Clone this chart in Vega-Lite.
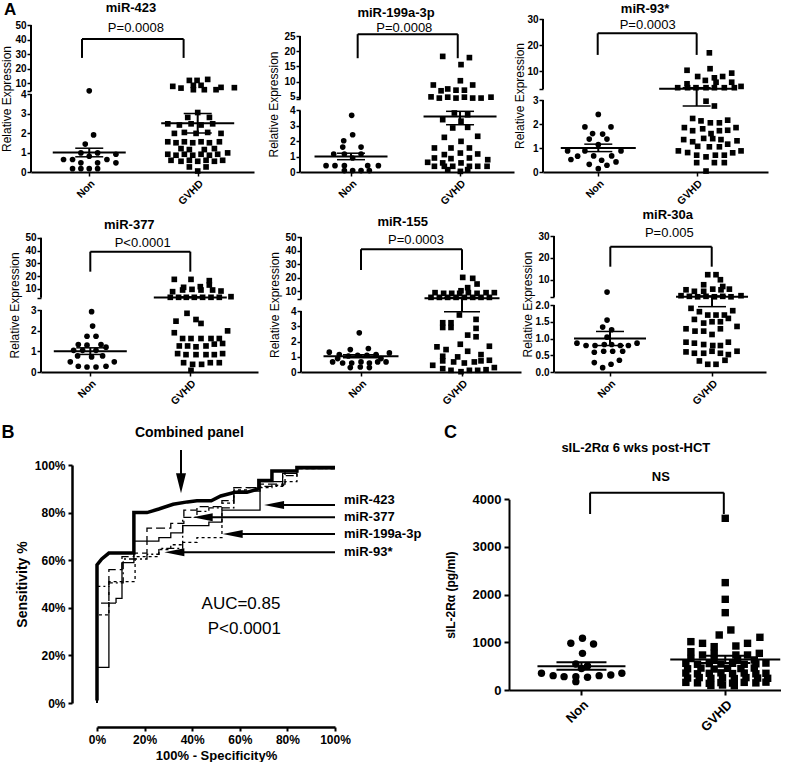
{
"$schema": "https://vega.github.io/schema/vega-lite/v6.json",
"background": "white",
"padding": {"left": 0, "top": 1, "right": 0, "bottom": 0},
"columns": 3,
"bounds": "flush",
"spacing": {"row": 64, "column": 0},
"config": {"font": "Liberation Sans", "view": {"stroke": null}, "axis": {"grid": false, "domainColor": "#000", "tickColor": "#000", "labelColor": "#000", "titleColor": "#000", "labelOverlap": false, "labelFlush": false}},
"concat": [
{
"width": 269, "height": 153,
"encoding": {
 "x": {"field": "x", "type": "quantitative", "scale": {"domain": [0.463, 2.519], "range": [0, 223], "nice": false, "zero": false},
  "axis": {"values": [1, 2], "labelExpr": "datum.value == 1 ? 'Non' : 'GVHD'", "labelAngle": -45, "labelFontSize": 10.5, "labelFontWeight": "bold", "tickSize": 4, "tickWidth": 1.5, "domainWidth": 2, "title": null, "labelPadding": 2}},
 "y": {"field": "y", "type": "quantitative", "scale": {"domain": [0, 4, 4.5, 50], "range": [153, 75, 72, 6], "nice": false, "zero": false},
  "axis": {"values": [0, 1, 2, 3, 4, 4.5, 10, 20, 30, 40, 50], "labelExpr": "datum.value == 4.5 ? '' : datum.label", "domain": false, "tickSize": 4, "tickWidth": 1.5, "labelFontSize": 10, "labelFontWeight": "bold", "labelPadding": 1, "title": "Relative Expression", "titleFontSize": 12, "titleFontWeight": "normal", "titlePadding": 1}}
},
"layer": [
 {"data": {"values": [
  {"g":"Non","x":1.0,"y":4.6},{"g":"Non","x":1.04,"y":1.9},{"g":"Non","x":0.963,"y":1.43},{"g":"Non","x":0.923,"y":0.98},{"g":"Non","x":1.077,"y":0.98},{"g":"Non","x":1.246,"y":0.91},{"g":"Non","x":1.0,"y":0.81},{"g":"Non","x":0.763,"y":0.64},{"g":"Non","x":0.846,"y":0.64},{"g":"Non","x":1.163,"y":0.64},{"g":"Non","x":0.923,"y":0.47},{"g":"Non","x":1.077,"y":0.47},{"g":"Non","x":1.246,"y":0.47},{"g":"Non","x":0.846,"y":0.17},{"g":"Non","x":0.923,"y":0.17},{"g":"Non","x":1.0,"y":0.17},{"g":"Non","x":1.077,"y":0.17},
  {"g":"GVHD","x":1.77,"y":7.7},{"g":"GVHD","x":1.846,"y":6.5},{"g":"GVHD","x":1.923,"y":11.8},{"g":"GVHD","x":1.994,"y":11.8},{"g":"GVHD","x":2.092,"y":12.5},{"g":"GVHD","x":1.96,"y":8.4},{"g":"GVHD","x":2.031,"y":8.4},{"g":"GVHD","x":1.96,"y":5.4},{"g":"GVHD","x":2.061,"y":5.4},{"g":"GVHD","x":2.169,"y":5.4},{"g":"GVHD","x":2.338,"y":6.8},{"g":"GVHD","x":2.215,"y":7.0},
  {"g":"GVHD","x":2.0,"y":3.05},{"g":"GVHD","x":1.908,"y":2.8},{"g":"GVHD","x":2.108,"y":2.8},{"g":"GVHD","x":1.724,"y":2.47},{"g":"GVHD","x":1.831,"y":2.41},{"g":"GVHD","x":1.939,"y":2.47},{"g":"GVHD","x":2.031,"y":2.41},{"g":"GVHD","x":2.138,"y":2.47},{"g":"GVHD","x":1.785,"y":1.98},{"g":"GVHD","x":1.877,"y":2.03},{"g":"GVHD","x":1.985,"y":1.98},{"g":"GVHD","x":2.092,"y":2.03},{"g":"GVHD","x":2.215,"y":1.98},{"g":"GVHD","x":1.724,"y":1.55},{"g":"GVHD","x":1.8,"y":1.5},{"g":"GVHD","x":1.877,"y":1.55},{"g":"GVHD","x":1.954,"y":1.5},{"g":"GVHD","x":2.031,"y":1.55},{"g":"GVHD","x":2.108,"y":1.5},{"g":"GVHD","x":2.2,"y":1.55},{"g":"GVHD","x":1.846,"y":1.2},{"g":"GVHD","x":1.923,"y":1.15},{"g":"GVHD","x":2.061,"y":1.15},{"g":"GVHD","x":2.154,"y":1.2},{"g":"GVHD","x":1.724,"y":0.91},{"g":"GVHD","x":1.8,"y":0.86},{"g":"GVHD","x":1.877,"y":0.91},{"g":"GVHD","x":1.954,"y":0.86},{"g":"GVHD","x":2.031,"y":0.91},{"g":"GVHD","x":2.108,"y":0.86},{"g":"GVHD","x":2.184,"y":0.91},{"g":"GVHD","x":2.276,"y":0.98},{"g":"GVHD","x":1.754,"y":0.6},{"g":"GVHD","x":1.846,"y":0.55},{"g":"GVHD","x":1.923,"y":0.6},{"g":"GVHD","x":2.0,"y":0.55},{"g":"GVHD","x":2.077,"y":0.6},{"g":"GVHD","x":2.154,"y":0.55},{"g":"GVHD","x":2.23,"y":0.6},{"g":"GVHD","x":1.923,"y":0.26},{"g":"GVHD","x":2.077,"y":0.26},{"g":"GVHD","x":2.0,"y":0.05}
 ]}, "mark": {"type": "point", "filled": true, "opacity": 1, "color": "#000", "size": 32},
  "encoding": {"shape": {"field": "g", "type": "nominal", "scale": {"domain": ["Non", "GVHD"], "range": ["circle", "square"]}, "legend": null}}},
 {"data": {"values": [
  {"x":0.463,"y":0,"x2":0.463,"y2":4},{"x":0.463,"y":4.5,"x2":0.463,"y2":50},
  {"x":0.933,"y":27.3,"x2":0.933,"y2":40.3},{"x":0.933,"y":40.3,"x2":1.87,"y2":40.3},{"x":1.87,"y":40.3,"x2":1.87,"y2":27.3},
  {"x":1,"y":0.78,"x2":1,"y2":1.22},{"x":2,"y":2.0,"x2":2,"y2":3.0}
 ]}, "mark": {"type": "rule", "strokeWidth": 2, "color": "#000"}, "encoding": {"x2": {"field": "x2"}, "y2": {"field": "y2"}}},
 {"data": {"values": [{"x":1,"y":1.0},{"x":2,"y":2.5}]}, "mark": {"type": "tick", "orient": "horizontal", "size": 73, "thickness": 2, "color": "#000", "opacity": 1}},
 {"data": {"values": [{"x":1,"y":0.78},{"x":1,"y":1.22},{"x":2,"y":2.0},{"x":2,"y":3.0}]}, "mark": {"type": "tick", "orient": "horizontal", "size": 28, "thickness": 1.5, "color": "#000", "opacity": 1}},
 {"data": {"values": [{"x":1.385,"y":61.5,"t":"miR-423"}]}, "mark": {"type": "text", "fontSize": 13, "fontWeight": "bold", "color": "#000"}, "encoding": {"text": {"field": "t"}}},
 {"data": {"values": [{"x":1.43,"y":47.9,"t":"P=0.0008"}]}, "mark": {"type": "text", "fontSize": 13, "color": "#000"}, "encoding": {"text": {"field": "t"}}},
 {"data": {"values": [{"x":0.27,"y":60.2,"t":"A"}]}, "mark": {"type": "text", "fontSize": 17, "fontWeight": "bold", "color": "#000"}, "encoding": {"text": {"field": "t"}}}
]
},
{
"width": 243, "height": 153,
"encoding": {
 "x": {"field": "x", "type": "quantitative", "scale": {"domain": [0.532, 2.495], "range": [0, 214], "nice": false, "zero": false},
  "axis": {"values": [1, 2], "labelExpr": "datum.value == 1 ? 'Non' : 'GVHD'", "labelAngle": -45, "labelFontSize": 10.5, "labelFontWeight": "bold", "tickSize": 4, "tickWidth": 1.5, "domainWidth": 2, "title": null, "labelPadding": 2}},
 "y": {"field": "y", "type": "quantitative", "scale": {"domain": [0, 4, 4.2, 25], "range": [153, 91.4, 80.3, 17], "nice": false, "zero": false},
  "axis": {"values": [0, 1, 2, 3, 4, 4.2, 5, 10, 15, 20, 25], "labelExpr": "datum.value == 4.2 ? '' : datum.label", "domain": false, "tickSize": 4, "tickWidth": 1.5, "labelFontSize": 10, "labelFontWeight": "bold", "labelPadding": 1, "title": "Relative Expression", "titleFontSize": 12, "titleFontWeight": "normal", "titlePadding": 3}}
},
"layer": [
 {"data": {"values": [
  {"g":"Non","x":1.006,"y":3.68},{"g":"Non","x":1.015,"y":2.42},{"g":"Non","x":0.933,"y":2.03},{"g":"Non","x":0.924,"y":1.62},{"g":"Non","x":1.092,"y":1.62},{"g":"Non","x":0.841,"y":1.17},{"g":"Non","x":0.939,"y":1.17},{"g":"Non","x":1.092,"y":1.17},{"g":"Non","x":1.015,"y":0.91},{"g":"Non","x":0.771,"y":0.41},{"g":"Non","x":0.853,"y":0.41},{"g":"Non","x":0.939,"y":0.41},{"g":"Non","x":1.153,"y":0.41},{"g":"Non","x":1.251,"y":0.41},{"g":"Non","x":0.939,"y":0.09},{"g":"Non","x":1.015,"y":0.09},{"g":"Non","x":1.092,"y":0.09},{"g":"Non","x":1.168,"y":0.09},
  {"g":"GVHD","x":1.841,"y":18.3},{"g":"GVHD","x":2.086,"y":17.9},{"g":"GVHD","x":2.009,"y":15.6},{"g":"GVHD","x":2.003,"y":10.3},{"g":"GVHD","x":1.755,"y":8.9},{"g":"GVHD","x":2.116,"y":8.9},{"g":"GVHD","x":1.887,"y":7.6},{"g":"GVHD","x":1.963,"y":7.2},{"g":"GVHD","x":2.04,"y":7.2},{"g":"GVHD","x":1.826,"y":7.0},{"g":"GVHD","x":1.734,"y":5.0},{"g":"GVHD","x":1.81,"y":4.6},{"g":"GVHD","x":1.887,"y":4.9},{"g":"GVHD","x":1.963,"y":4.6},{"g":"GVHD","x":2.04,"y":4.9},{"g":"GVHD","x":2.116,"y":4.6},{"g":"GVHD","x":2.193,"y":4.6},{"g":"GVHD","x":2.284,"y":4.9},
  {"g":"GVHD","x":1.948,"y":3.83},{"g":"GVHD","x":2.07,"y":3.72},{"g":"GVHD","x":1.841,"y":3.4},{"g":"GVHD","x":2.009,"y":3.3},{"g":"GVHD","x":1.933,"y":2.86},{"g":"GVHD","x":2.07,"y":2.9},{"g":"GVHD","x":1.856,"y":2.25},{"g":"GVHD","x":2.162,"y":2.32},{"g":"GVHD","x":2.009,"y":1.99},{"g":"GVHD","x":1.765,"y":1.56},{"g":"GVHD","x":1.917,"y":1.56},{"g":"GVHD","x":2.086,"y":1.56},{"g":"GVHD","x":1.856,"y":1.13},{"g":"GVHD","x":2.003,"y":1.23},{"g":"GVHD","x":2.162,"y":1.17},{"g":"GVHD","x":1.765,"y":0.91},{"g":"GVHD","x":1.917,"y":0.87},{"g":"GVHD","x":2.086,"y":0.91},{"g":"GVHD","x":1.703,"y":0.63},{"g":"GVHD","x":1.841,"y":0.59},{"g":"GVHD","x":2.009,"y":0.59},{"g":"GVHD","x":2.254,"y":0.8},{"g":"GVHD","x":1.765,"y":0.37},{"g":"GVHD","x":1.856,"y":0.37},{"g":"GVHD","x":1.933,"y":0.37},{"g":"GVHD","x":2.086,"y":0.37},{"g":"GVHD","x":2.162,"y":0.37},{"g":"GVHD","x":2.248,"y":0.37},{"g":"GVHD","x":1.887,"y":0.15},{"g":"GVHD","x":2.003,"y":0.04},{"g":"GVHD","x":2.07,"y":0.15}
 ]}, "mark": {"type": "point", "filled": true, "opacity": 1, "color": "#000", "size": 32},
  "encoding": {"shape": {"field": "g", "type": "nominal", "scale": {"domain": ["Non", "GVHD"], "range": ["circle", "square"]}, "legend": null}}},
 {"data": {"values": [
  {"x":0.532,"y":0,"x2":0.532,"y2":4},{"x":0.532,"y":4.2,"x2":0.532,"y2":25},
  {"x":1.061,"y":17.7,"x2":1.061,"y2":25.6},{"x":1.061,"y":25.6,"x2":1.979,"y2":25.6},{"x":1.979,"y":25.6,"x2":1.979,"y2":17.7},
  {"x":1,"y":0.8,"x2":1,"y2":1.22},{"x":2,"y":3.07,"x2":2,"y2":3.94}
 ]}, "mark": {"type": "rule", "strokeWidth": 2, "color": "#000"}, "encoding": {"x2": {"field": "x2"}, "y2": {"field": "y2"}}},
 {"data": {"values": [{"x":1,"y":1.0},{"x":2,"y":3.6}]}, "mark": {"type": "tick", "orient": "horizontal", "size": 73, "thickness": 2, "color": "#000", "opacity": 1}},
 {"data": {"values": [{"x":1,"y":0.8},{"x":1,"y":1.22},{"x":2,"y":3.07},{"x":2,"y":3.94}]}, "mark": {"type": "tick", "orient": "horizontal", "size": 28, "thickness": 1.5, "color": "#000", "opacity": 1}},
 {"data": {"values": [{"x":1.413,"y":32.5,"t":"miR-199a-3p"}]}, "mark": {"type": "text", "fontSize": 13, "fontWeight": "bold", "color": "#000"}, "encoding": {"text": {"field": "t"}}},
 {"data": {"values": [{"x":1.489,"y":27.5,"t":"P=0.0008"}]}, "mark": {"type": "text", "fontSize": 13, "color": "#000"}, "encoding": {"text": {"field": "t"}}}
]
},
{
"width": 225, "height": 153,
"encoding": {
 "x": {"field": "x", "type": "quantitative", "scale": {"domain": [0.438, 2.725], "range": [0, 225], "nice": false, "zero": false},
  "axis": {"values": [1, 2], "labelExpr": "datum.value == 1 ? 'Non' : 'GVHD'", "labelAngle": -45, "labelFontSize": 10.5, "labelFontWeight": "bold", "tickSize": 4, "tickWidth": 1.5, "domainWidth": 2, "title": null, "labelPadding": 2}},
 "y": {"field": "y", "type": "quantitative", "scale": {"domain": [0, 3, 3.1, 30], "range": [153, 81, 70, 0], "nice": false, "zero": false},
  "axis": {"values": [0, 1, 2, 3, 3.1, 10, 20, 30], "labelExpr": "datum.value == 3.1 ? '' : datum.label", "domain": false, "tickSize": 4, "tickWidth": 1.5, "labelFontSize": 10, "labelFontWeight": "bold", "labelPadding": 1, "title": "Relative Expression", "titleFontSize": 12, "titleFontWeight": "normal", "titlePadding": 0}}
},
"layer": [
 {"data": {"values": [
  {"g":"Non","x":1.0,"y":2.4},{"g":"Non","x":0.864,"y":1.88},{"g":"Non","x":1.129,"y":1.88},{"g":"Non","x":0.942,"y":1.6},{"g":"Non","x":1.044,"y":1.58},{"g":"Non","x":0.908,"y":1.37},{"g":"Non","x":1.088,"y":1.37},{"g":"Non","x":1.0,"y":1.14},{"g":"Non","x":0.688,"y":0.88},{"g":"Non","x":0.864,"y":0.88},{"g":"Non","x":1.231,"y":0.88},{"g":"Non","x":0.79,"y":0.66},{"g":"Non","x":0.953,"y":0.67},{"g":"Non","x":1.136,"y":0.67},{"g":"Non","x":0.722,"y":0.52},{"g":"Non","x":1.034,"y":0.49},{"g":"Non","x":1.18,"y":0.42},{"g":"Non","x":0.908,"y":0.32},{"g":"Non","x":1.088,"y":0.28},{"g":"Non","x":1.0,"y":0.14},
  {"g":"GVHD","x":2.129,"y":17},{"g":"GVHD","x":1.902,"y":10.3},{"g":"GVHD","x":2.136,"y":10.9},{"g":"GVHD","x":2.356,"y":9.2},{"g":"GVHD","x":2.01,"y":7.9},{"g":"GVHD","x":2.18,"y":7.4},{"g":"GVHD","x":2.264,"y":7.9},{"g":"GVHD","x":1.902,"y":5.1},{"g":"GVHD","x":2.088,"y":6.4},{"g":"GVHD","x":2.197,"y":5.7},{"g":"GVHD","x":2.356,"y":5.7},{"g":"GVHD","x":1.807,"y":3.6},{"g":"GVHD","x":1.908,"y":3.6},{"g":"GVHD","x":1.993,"y":3.6},{"g":"GVHD","x":2.095,"y":3.6},{"g":"GVHD","x":2.18,"y":3.6},{"g":"GVHD","x":2.281,"y":3.6},{"g":"GVHD","x":2.383,"y":3.6},{"g":"GVHD","x":2.451,"y":4.1},
  {"g":"GVHD","x":2.095,"y":2.95},{"g":"GVHD","x":2.18,"y":2.75},{"g":"GVHD","x":1.959,"y":2.23},{"g":"GVHD","x":2.044,"y":2.13},{"g":"GVHD","x":2.139,"y":2.05},{"g":"GVHD","x":2.231,"y":2.05},{"g":"GVHD","x":2.315,"y":2.16},{"g":"GVHD","x":1.875,"y":1.85},{"g":"GVHD","x":1.959,"y":1.72},{"g":"GVHD","x":2.061,"y":1.8},{"g":"GVHD","x":2.146,"y":1.6},{"g":"GVHD","x":2.231,"y":1.72},{"g":"GVHD","x":2.315,"y":1.74},{"g":"GVHD","x":2.4,"y":1.85},{"g":"GVHD","x":1.868,"y":1.35},{"g":"GVHD","x":1.959,"y":1.26},{"g":"GVHD","x":2.071,"y":1.4},{"g":"GVHD","x":2.163,"y":1.39},{"g":"GVHD","x":2.247,"y":1.35},{"g":"GVHD","x":2.41,"y":1.3},{"g":"GVHD","x":2.01,"y":1.07},{"g":"GVHD","x":2.129,"y":1.05},{"g":"GVHD","x":2.231,"y":1.05},{"g":"GVHD","x":2.315,"y":1.16},{"g":"GVHD","x":1.814,"y":0.88},{"g":"GVHD","x":1.908,"y":0.81},{"g":"GVHD","x":2.0,"y":0.7},{"g":"GVHD","x":2.095,"y":0.63},{"g":"GVHD","x":2.19,"y":0.7},{"g":"GVHD","x":2.281,"y":0.7},{"g":"GVHD","x":2.366,"y":0.8},{"g":"GVHD","x":2.451,"y":0.88},{"g":"GVHD","x":2.0,"y":0.39},{"g":"GVHD","x":2.18,"y":0.39},{"g":"GVHD","x":2.281,"y":0.39},{"g":"GVHD","x":2.095,"y":0.04}
 ]}, "mark": {"type": "point", "filled": true, "opacity": 1, "color": "#000", "size": 32},
  "encoding": {"shape": {"field": "g", "type": "nominal", "scale": {"domain": ["Non", "GVHD"], "range": ["circle", "square"]}, "legend": null}}},
 {"data": {"values": [
  {"x":0.438,"y":0,"x2":0.438,"y2":3},{"x":0.438,"y":3.1,"x2":0.438,"y2":30},
  {"x":0.994,"y":16.2,"x2":0.994,"y2":24.5},{"x":0.994,"y":24.5,"x2":2.0,"y2":24.5},{"x":2.0,"y":24.5,"x2":2.0,"y2":16.2},
  {"x":1,"y":0.85,"x2":1,"y2":1.16},{"x":2,"y":2.75,"x2":2,"y2":3.6}
 ]}, "mark": {"type": "rule", "strokeWidth": 2, "color": "#000"}, "encoding": {"x2": {"field": "x2"}, "y2": {"field": "y2"}}},
 {"data": {"values": [{"x":1,"y":1.0},{"x":2,"y":3.2}]}, "mark": {"type": "tick", "orient": "horizontal", "size": 75, "thickness": 2, "color": "#000", "opacity": 1}},
 {"data": {"values": [{"x":1,"y":0.85},{"x":1,"y":1.16},{"x":2,"y":2.75},{"x":2,"y":3.6}]}, "mark": {"type": "tick", "orient": "horizontal", "size": 28, "thickness": 1.5, "color": "#000", "opacity": 1}},
 {"data": {"values": [{"x":1.475,"y":33.7,"t":"miR-93*"}]}, "mark": {"type": "text", "fontSize": 13, "fontWeight": "bold", "color": "#000"}, "encoding": {"text": {"field": "t"}}},
 {"data": {"values": [{"x":1.502,"y":27.7,"t":"P=0.0003"}]}, "mark": {"type": "text", "fontSize": 13, "color": "#000"}, "encoding": {"text": {"field": "t"}}}
]
},
{
"width": 269, "height": 136,
"encoding": {
 "x": {"field": "x", "type": "quantitative", "scale": {"domain": [0.507, 2.677], "range": [10, 227], "nice": false, "zero": false},
  "axis": {"values": [1, 2], "labelExpr": "datum.value == 1 ? 'Non' : 'GVHD'", "labelAngle": -45, "labelFontSize": 10.5, "labelFontWeight": "bold", "tickSize": 4, "tickWidth": 1.5, "domainWidth": 2, "title": null, "labelPadding": 2}},
 "y": {"field": "y", "type": "quantitative", "scale": {"domain": [0, 3, 3.2, 50], "range": [136, 74, 61.7, 1.7], "nice": false, "zero": false},
  "axis": {"offset": -10, "values": [0, 1, 2, 3, 3.2, 10, 20, 30, 40, 50], "labelExpr": "datum.value == 3.2 ? '' : datum.label", "domain": false, "tickSize": 4, "tickWidth": 1.5, "labelFontSize": 10, "labelFontWeight": "bold", "labelPadding": 1, "title": "Relative Expression", "titleFontSize": 12, "titleFontWeight": "normal", "titlePadding": 3}}
},
"layer": [
 {"data": {"values": [
  {"g":"Non","x":1.013,"y":2.92},{"g":"Non","x":1.023,"y":2.22},{"g":"Non","x":0.967,"y":1.73},{"g":"Non","x":1.057,"y":1.73},{"g":"Non","x":0.88,"y":1.33},{"g":"Non","x":0.967,"y":1.3},{"g":"Non","x":1.107,"y":1.33},{"g":"Non","x":1.157,"y":1.2},{"g":"Non","x":0.833,"y":1.05},{"g":"Non","x":0.923,"y":1.05},{"g":"Non","x":1.057,"y":1.05},{"g":"Non","x":0.873,"y":0.78},{"g":"Non","x":1.013,"y":0.73},{"g":"Non","x":1.123,"y":0.78},{"g":"Non","x":0.8,"y":0.49},{"g":"Non","x":1.24,"y":0.49},{"g":"Non","x":0.88,"y":0.28},{"g":"Non","x":0.967,"y":0.24},{"g":"Non","x":1.057,"y":0.24},{"g":"Non","x":1.157,"y":0.28},
  {"g":"GVHD","x":1.84,"y":17.5},{"g":"GVHD","x":2.007,"y":17.5},{"g":"GVHD","x":2.19,"y":16.5},{"g":"GVHD","x":1.933,"y":11.3},{"g":"GVHD","x":2.1,"y":11.8},{"g":"GVHD","x":2.19,"y":13.1},{"g":"GVHD","x":1.823,"y":7.9},{"g":"GVHD","x":1.923,"y":9.2},{"g":"GVHD","x":2.017,"y":9.7},{"g":"GVHD","x":2.107,"y":9.2},{"g":"GVHD","x":2.223,"y":9.2},{"g":"GVHD","x":2.307,"y":8.4},{"g":"GVHD","x":1.8,"y":3.5},{"g":"GVHD","x":1.883,"y":3.5},{"g":"GVHD","x":1.96,"y":3.5},{"g":"GVHD","x":2.04,"y":3.5},{"g":"GVHD","x":2.123,"y":3.5},{"g":"GVHD","x":2.207,"y":3.5},{"g":"GVHD","x":2.29,"y":3.5},{"g":"GVHD","x":2.407,"y":4.0},
  {"g":"GVHD","x":1.967,"y":2.84},{"g":"GVHD","x":2.057,"y":2.54},{"g":"GVHD","x":1.857,"y":2.46},{"g":"GVHD","x":2.107,"y":2.35},{"g":"GVHD","x":1.84,"y":1.9},{"g":"GVHD","x":2.373,"y":1.99},{"g":"GVHD","x":1.923,"y":1.62},{"g":"GVHD","x":2.007,"y":1.62},{"g":"GVHD","x":2.107,"y":1.62},{"g":"GVHD","x":2.207,"y":1.62},{"g":"GVHD","x":2.29,"y":1.62},{"g":"GVHD","x":1.89,"y":1.26},{"g":"GVHD","x":1.973,"y":1.26},{"g":"GVHD","x":2.057,"y":1.22},{"g":"GVHD","x":2.157,"y":1.26},{"g":"GVHD","x":2.24,"y":1.35},{"g":"GVHD","x":2.323,"y":1.38},{"g":"GVHD","x":1.873,"y":0.89},{"g":"GVHD","x":1.957,"y":0.84},{"g":"GVHD","x":2.057,"y":0.84},{"g":"GVHD","x":2.157,"y":0.84},{"g":"GVHD","x":2.24,"y":0.84},{"g":"GVHD","x":2.323,"y":0.89},{"g":"GVHD","x":1.933,"y":0.45},{"g":"GVHD","x":2.023,"y":0.37},{"g":"GVHD","x":2.113,"y":0.37},{"g":"GVHD","x":2.2,"y":0.45},{"g":"GVHD","x":2.29,"y":0.45},{"g":"GVHD","x":2.007,"y":0.08}
 ]}, "mark": {"type": "point", "filled": true, "opacity": 1, "color": "#000", "size": 32},
  "encoding": {"shape": {"field": "g", "type": "nominal", "scale": {"domain": ["Non", "GVHD"], "range": ["circle", "square"]}, "legend": null}}},
 {"data": {"values": [
  {"x":0.507,"y":0,"x2":0.507,"y2":3},{"x":0.507,"y":3.2,"x2":0.507,"y2":50},
  {"x":1.0,"y":23.5,"x2":1.0,"y2":39.1},{"x":1.0,"y":39.1,"x2":2.0,"y2":39.1},{"x":2.0,"y":39.1,"x2":2.0,"y2":23.5},
  {"x":1,"y":0.85,"x2":1,"y2":1.17},{"x":2,"y":3.25,"x2":2,"y2":3.9}
 ]}, "mark": {"type": "rule", "strokeWidth": 2, "color": "#000"}, "encoding": {"x2": {"field": "x2"}, "y2": {"field": "y2"}}},
 {"data": {"values": [{"x":1,"y":1.0},{"x":2,"y":3.45}]}, "mark": {"type": "tick", "orient": "horizontal", "size": 73, "thickness": 2, "color": "#000", "opacity": 1}},
 {"data": {"values": [{"x":1,"y":0.85},{"x":1,"y":1.17},{"x":2,"y":3.25},{"x":2,"y":3.9}]}, "mark": {"type": "tick", "orient": "horizontal", "size": 28, "thickness": 1.5, "color": "#000", "opacity": 1}},
 {"data": {"values": [{"x":1.39,"y":59.9,"t":"miR-377"}]}, "mark": {"type": "text", "fontSize": 13, "fontWeight": "bold", "color": "#000"}, "encoding": {"text": {"field": "t"}}},
 {"data": {"values": [{"x":1.524,"y":45.6,"t":"P<0.0001"}]}, "mark": {"type": "text", "fontSize": 13, "color": "#000"}, "encoding": {"text": {"field": "t"}}}
]
},
{
"width": 243, "height": 136,
"encoding": {
 "x": {"field": "x", "type": "quantitative", "scale": {"domain": [0.406, 2.584], "range": [1, 221], "nice": false, "zero": false},
  "axis": {"values": [1, 2], "labelExpr": "datum.value == 1 ? 'Non' : 'GVHD'", "labelAngle": -45, "labelFontSize": 10.5, "labelFontWeight": "bold", "tickSize": 4, "tickWidth": 1.5, "domainWidth": 2, "title": null, "labelPadding": 2}},
 "y": {"field": "y", "type": "quantitative", "scale": {"domain": [0, 4, 4.1, 50], "range": [136, 75, 63, 1], "nice": false, "zero": false},
  "axis": {"offset": -1, "values": [0, 1, 2, 3, 4, 4.1, 10, 20, 30, 40, 50], "labelExpr": "datum.value == 4.1 ? '' : datum.label", "domain": false, "tickSize": 4, "tickWidth": 1.5, "labelFontSize": 10, "labelFontWeight": "bold", "labelPadding": 1, "title": "Relative Expression", "titleFontSize": 12, "titleFontWeight": "normal", "titlePadding": 3}}
},
"layer": [
 {"data": {"values": [
  {"g":"Non","x":0.983,"y":2.57},{"g":"Non","x":0.686,"y":1.3},{"g":"Non","x":0.894,"y":1.47},{"g":"Non","x":1.073,"y":1.54},{"g":"Non","x":1.281,"y":1.25},{"g":"Non","x":0.785,"y":1.14},{"g":"Non","x":0.875,"y":1.05},{"g":"Non","x":0.967,"y":1.1},{"g":"Non","x":1.059,"y":1.1},{"g":"Non","x":1.149,"y":1.14},{"g":"Non","x":0.769,"y":0.88},{"g":"Non","x":1.198,"y":0.88},{"g":"Non","x":0.719,"y":0.66},{"g":"Non","x":0.818,"y":0.59},{"g":"Non","x":0.908,"y":0.59},{"g":"Non","x":1.0,"y":0.66},{"g":"Non","x":1.083,"y":0.59},{"g":"Non","x":1.165,"y":0.66},{"g":"Non","x":1.248,"y":0.66},{"g":"Non","x":0.894,"y":0.29},{"g":"Non","x":0.993,"y":0.33},{"g":"Non","x":1.083,"y":0.29},
  {"g":"GVHD","x":2.007,"y":20.1},{"g":"GVHD","x":2.106,"y":19.4},{"g":"GVHD","x":2.149,"y":15.2},{"g":"GVHD","x":2.056,"y":12.5},{"g":"GVHD","x":1.99,"y":10.2},{"g":"GVHD","x":1.733,"y":8.8},{"g":"GVHD","x":1.818,"y":8.3},{"g":"GVHD","x":1.898,"y":8.3},{"g":"GVHD","x":1.977,"y":8.3},{"g":"GVHD","x":2.063,"y":8.8},{"g":"GVHD","x":2.149,"y":8.3},{"g":"GVHD","x":2.238,"y":8.8},{"g":"GVHD","x":2.32,"y":8.8},{"g":"GVHD","x":1.693,"y":5.3},{"g":"GVHD","x":1.776,"y":5.3},{"g":"GVHD","x":1.858,"y":5.3},{"g":"GVHD","x":1.941,"y":5.3},{"g":"GVHD","x":2.023,"y":5.3},{"g":"GVHD","x":2.106,"y":5.3},{"g":"GVHD","x":2.188,"y":5.3},{"g":"GVHD","x":2.271,"y":5.3},
  {"g":"GVHD","x":1.974,"y":3.74},{"g":"GVHD","x":1.809,"y":3.23},{"g":"GVHD","x":1.891,"y":3.23},{"g":"GVHD","x":2.139,"y":3.45},{"g":"GVHD","x":1.809,"y":2.92},{"g":"GVHD","x":1.891,"y":2.92},{"g":"GVHD","x":2.139,"y":2.86},{"g":"GVHD","x":2.056,"y":2.42},{"g":"GVHD","x":2.139,"y":2.31},{"g":"GVHD","x":1.983,"y":1.82},{"g":"GVHD","x":2.271,"y":1.69},{"g":"GVHD","x":1.752,"y":1.65},{"g":"GVHD","x":1.842,"y":1.47},{"g":"GVHD","x":2.056,"y":1.36},{"g":"GVHD","x":1.957,"y":0.99},{"g":"GVHD","x":2.188,"y":1.14},{"g":"GVHD","x":1.809,"y":1.03},{"g":"GVHD","x":1.71,"y":0.44},{"g":"GVHD","x":1.809,"y":0.73},{"g":"GVHD","x":1.917,"y":0.66},{"g":"GVHD","x":2.023,"y":0.59},{"g":"GVHD","x":2.122,"y":0.66},{"g":"GVHD","x":2.188,"y":0.73},{"g":"GVHD","x":2.271,"y":0.77},{"g":"GVHD","x":1.809,"y":0.22},{"g":"GVHD","x":1.891,"y":0.11},{"g":"GVHD","x":1.99,"y":0.02},{"g":"GVHD","x":2.073,"y":0.11},{"g":"GVHD","x":2.155,"y":0.11},{"g":"GVHD","x":2.238,"y":0.15},{"g":"GVHD","x":2.32,"y":0.29}
 ]}, "mark": {"type": "point", "filled": true, "opacity": 1, "color": "#000", "size": 32},
  "encoding": {"shape": {"field": "g", "type": "nominal", "scale": {"domain": ["Non", "GVHD"], "range": ["circle", "square"]}, "legend": null}}},
 {"data": {"values": [
  {"x":0.406,"y":0,"x2":0.406,"y2":4},{"x":0.406,"y":4.1,"x2":0.406,"y2":50},
  {"x":1.0,"y":25.6,"x2":1.0,"y2":40.9},{"x":1.0,"y":40.9,"x2":2.0,"y2":40.9},{"x":2.0,"y":40.9,"x2":2.0,"y2":25.6},
  {"x":1,"y":0.93,"x2":1,"y2":1.13},{"x":2,"y":3.95,"x2":2,"y2":5.3}
 ]}, "mark": {"type": "rule", "strokeWidth": 2, "color": "#000"}, "encoding": {"x2": {"field": "x2"}, "y2": {"field": "y2"}}},
 {"data": {"values": [{"x":1,"y":1.03},{"x":2,"y":4.6}]}, "mark": {"type": "tick", "orient": "horizontal", "size": 75, "thickness": 2, "color": "#000", "opacity": 1}},
 {"data": {"values": [{"x":1,"y":0.93},{"x":1,"y":1.13},{"x":2,"y":3.95},{"x":2,"y":5.3}]}, "mark": {"type": "tick", "orient": "horizontal", "size": 36, "thickness": 1.5, "color": "#000", "opacity": 1}},
 {"data": {"values": [{"x":1.413,"y":61.3,"t":"miR-155"}]}, "mark": {"type": "text", "fontSize": 13, "fontWeight": "bold", "color": "#000"}, "encoding": {"text": {"field": "t"}}},
 {"data": {"values": [{"x":1.545,"y":47.8,"t":"P=0.0003"}]}, "mark": {"type": "text", "fontSize": 13, "color": "#000"}, "encoding": {"text": {"field": "t"}}}
]
},
{
"width": 225, "height": 136,
"encoding": {
 "x": {"field": "x", "type": "quantitative", "scale": {"domain": [0.451, 2.529], "range": [11, 223], "nice": false, "zero": false},
  "axis": {"values": [1, 2], "labelExpr": "datum.value == 1 ? 'Non' : 'GVHD'", "labelAngle": -45, "labelFontSize": 10.5, "labelFontWeight": "bold", "tickSize": 4, "tickWidth": 1.5, "domainWidth": 2, "title": null, "labelPadding": 2}},
 "y": {"field": "y", "type": "quantitative", "scale": {"domain": [0, 2, 2.1, 30], "range": [136, 69, 61, 0], "nice": false, "zero": false},
  "axis": {"offset": -11, "values": [0, 0.5, 1, 1.5, 2, 2.1, 10, 20, 30], "labelExpr": "datum.value == 2.1 ? '' : (datum.value < 5 ? format(datum.value, '.1f') : format(datum.value, 'd'))", "domain": false, "tickSize": 4, "tickWidth": 1.5, "labelFontSize": 10, "labelFontWeight": "bold", "labelPadding": 1, "title": "Relative Expression", "titleFontSize": 12, "titleFontWeight": "normal", "titlePadding": 1}}
},
"layer": [
 {"data": {"values": [
  {"g":"Non","x":0.971,"y":4.35},{"g":"Non","x":0.971,"y":1.55},{"g":"Non","x":0.928,"y":1.34},{"g":"Non","x":1.016,"y":1.26},{"g":"Non","x":0.971,"y":1.04},{"g":"Non","x":0.676,"y":0.86},{"g":"Non","x":0.765,"y":0.79},{"g":"Non","x":0.853,"y":0.79},{"g":"Non","x":0.944,"y":0.82},{"g":"Non","x":1.016,"y":0.82},{"g":"Non","x":1.101,"y":0.79},{"g":"Non","x":1.18,"y":0.79},{"g":"Non","x":1.265,"y":0.86},{"g":"Non","x":0.846,"y":0.59},{"g":"Non","x":0.938,"y":0.62},{"g":"Non","x":1.026,"y":0.62},{"g":"Non","x":1.124,"y":0.62},{"g":"Non","x":0.846,"y":0.28},{"g":"Non","x":1.01,"y":0.23},{"g":"Non","x":1.092,"y":0.35},{"g":"Non","x":0.928,"y":0.13},
  {"g":"GVHD","x":1.958,"y":12.3},{"g":"GVHD","x":2.039,"y":12.3},{"g":"GVHD","x":2.082,"y":10.0},{"g":"GVHD","x":1.918,"y":7.7},{"g":"GVHD","x":2.105,"y":6.9},{"g":"GVHD","x":1.745,"y":5.4},{"g":"GVHD","x":1.827,"y":4.7},{"g":"GVHD","x":1.918,"y":4.7},{"g":"GVHD","x":2.007,"y":5.7},{"g":"GVHD","x":2.088,"y":5.4},{"g":"GVHD","x":2.17,"y":5.7},{"g":"GVHD","x":1.696,"y":2.7},{"g":"GVHD","x":1.778,"y":2.4},{"g":"GVHD","x":1.859,"y":2.2},{"g":"GVHD","x":1.941,"y":2.4},{"g":"GVHD","x":2.023,"y":2.2},{"g":"GVHD","x":2.105,"y":2.4},{"g":"GVHD","x":2.186,"y":2.2},{"g":"GVHD","x":2.284,"y":2.7},
  {"g":"GVHD","x":1.794,"y":1.9},{"g":"GVHD","x":1.876,"y":1.8},{"g":"GVHD","x":1.958,"y":1.7},{"g":"GVHD","x":2.039,"y":1.7},{"g":"GVHD","x":2.121,"y":1.7},{"g":"GVHD","x":2.203,"y":1.83},{"g":"GVHD","x":1.827,"y":1.57},{"g":"GVHD","x":1.918,"y":1.46},{"g":"GVHD","x":2.0,"y":1.5},{"g":"GVHD","x":2.082,"y":1.5},{"g":"GVHD","x":2.16,"y":1.6},{"g":"GVHD","x":1.745,"y":1.29},{"g":"GVHD","x":1.833,"y":1.22},{"g":"GVHD","x":1.918,"y":1.22},{"g":"GVHD","x":2.0,"y":1.12},{"g":"GVHD","x":2.082,"y":1.29},{"g":"GVHD","x":2.245,"y":1.36},{"g":"GVHD","x":1.745,"y":0.89},{"g":"GVHD","x":1.827,"y":0.86},{"g":"GVHD","x":1.918,"y":0.82},{"g":"GVHD","x":2.007,"y":0.79},{"g":"GVHD","x":2.082,"y":0.79},{"g":"GVHD","x":2.16,"y":0.89},{"g":"GVHD","x":1.745,"y":0.6},{"g":"GVHD","x":1.827,"y":0.56},{"g":"GVHD","x":1.918,"y":0.56},{"g":"GVHD","x":2.0,"y":0.62},{"g":"GVHD","x":2.082,"y":0.56},{"g":"GVHD","x":2.16,"y":0.52},{"g":"GVHD","x":2.245,"y":0.62},{"g":"GVHD","x":1.876,"y":0.33},{"g":"GVHD","x":1.958,"y":0.23},{"g":"GVHD","x":2.039,"y":0.23},{"g":"GVHD","x":2.127,"y":0.35}
 ]}, "mark": {"type": "point", "filled": true, "opacity": 1, "color": "#000", "size": 32},
  "encoding": {"shape": {"field": "g", "type": "nominal", "scale": {"domain": ["Non", "GVHD"], "range": ["circle", "square"]}, "legend": null}}},
 {"data": {"values": [
  {"x":0.451,"y":0,"x2":0.451,"y2":2},{"x":0.451,"y":2.1,"x2":0.451,"y2":30},
  {"x":1.003,"y":15.96,"x2":1.003,"y2":25.1},{"x":1.003,"y":25.1,"x2":1.997,"y2":25.1},{"x":1.997,"y":25.1,"x2":1.997,"y2":15.96},
  {"x":1,"y":0.79,"x2":1,"y2":1.21},{"x":2,"y":1.95,"x2":2,"y2":2.6}
 ]}, "mark": {"type": "rule", "strokeWidth": 2, "color": "#000"}, "encoding": {"x2": {"field": "x2"}, "y2": {"field": "y2"}}},
 {"data": {"values": [{"x":1,"y":1.0},{"x":2,"y":2.25}]}, "mark": {"type": "tick", "orient": "horizontal", "size": 72, "thickness": 2, "color": "#000", "opacity": 1}},
 {"data": {"values": [{"x":1,"y":0.79},{"x":1,"y":1.21},{"x":2,"y":1.95},{"x":2,"y":2.6}]}, "mark": {"type": "tick", "orient": "horizontal", "size": 28, "thickness": 1.5, "color": "#000", "opacity": 1}},
 {"data": {"values": [{"x":1.566,"y":39.6,"t":"miR-30a"}]}, "mark": {"type": "text", "fontSize": 13, "fontWeight": "bold", "color": "#000"}, "encoding": {"text": {"field": "t"}}},
 {"data": {"values": [{"x":1.581,"y":31.2,"t":"P=0.005"}]}, "mark": {"type": "text", "fontSize": 13, "color": "#000"}, "encoding": {"text": {"field": "t"}}}
]
},
{
"width": 269, "height": 267,
"encoding": {
 "x": {"field": "x", "type": "quantitative", "scale": {"domain": [0, 100], "range": [66, 304], "nice": false, "zero": false},
  "axis": {"offset": 24, "values": [0, 20, 40, 60, 80, 100], "labelExpr": "datum.value + '%'", "title": "100% - Specificity%", "titleFontSize": 13, "titleFontWeight": "bold", "labelFontSize": 12, "labelFontWeight": "bold", "tickSize": 4, "tickWidth": 2, "domainWidth": 2.5, "labelPadding": 3, "titlePadding": 4}},
 "y": {"field": "y", "type": "quantitative", "scale": {"domain": [0, 100], "range": [267, 29], "nice": false, "zero": false},
  "axis": {"offset": -41, "values": [0, 20, 40, 60, 80, 100], "labelExpr": "datum.value + '%'", "title": "Sensitivity %", "titleFontSize": 14, "titleFontWeight": "bold", "labelFontSize": 12, "labelFontWeight": "bold", "tickSize": 4, "tickWidth": 2, "domainWidth": 2.5, "labelPadding": 3, "titlePadding": 5}}
},
"layer": [
 {"data": {"values": [
  {"c":"423","i":0,"x":0,"y":0},{"c":"423","i":1,"x":0,"y":15},{"c":"423","i":2,"x":5,"y":15},{"c":"423","i":3,"x":5,"y":42},{"c":"423","i":4,"x":8,"y":42},{"c":"423","i":5,"x":8,"y":44},{"c":"423","i":6,"x":10.5,"y":44},{"c":"423","i":7,"x":10.5,"y":59},{"c":"423","i":8,"x":15.5,"y":59},{"c":"423","i":9,"x":15.5,"y":68},{"c":"423","i":10,"x":26,"y":68},{"c":"423","i":11,"x":26,"y":69.5},{"c":"423","i":12,"x":31,"y":69.5},{"c":"423","i":13,"x":31,"y":71.5},{"c":"423","i":14,"x":36,"y":71.5},{"c":"423","i":15,"x":36,"y":74.5},{"c":"423","i":16,"x":47,"y":74.5},{"c":"423","i":17,"x":47,"y":76},{"c":"423","i":18,"x":52.5,"y":76},{"c":"423","i":19,"x":52.5,"y":81},{"c":"423","i":20,"x":68.5,"y":81},{"c":"423","i":21,"x":68.5,"y":93},{"c":"423","i":22,"x":78,"y":93},{"c":"423","i":23,"x":78,"y":96.5},{"c":"423","i":24,"x":84,"y":96.5},{"c":"423","i":25,"x":84,"y":98.5},{"c":"423","i":26,"x":100,"y":98.5},
  {"c":"377","i":0,"x":0,"y":0},{"c":"377","i":1,"x":0,"y":42},{"c":"377","i":2,"x":5,"y":42},{"c":"377","i":3,"x":5,"y":56},{"c":"377","i":4,"x":10.5,"y":56},{"c":"377","i":5,"x":10.5,"y":61.5},{"c":"377","i":6,"x":15.5,"y":61.5},{"c":"377","i":7,"x":15.5,"y":63},{"c":"377","i":8,"x":21,"y":63},{"c":"377","i":9,"x":21,"y":73.5},{"c":"377","i":10,"x":31,"y":73.5},{"c":"377","i":11,"x":31,"y":75.5},{"c":"377","i":12,"x":36.5,"y":75.5},{"c":"377","i":13,"x":36.5,"y":81},{"c":"377","i":14,"x":42,"y":81},{"c":"377","i":15,"x":42,"y":82.5},{"c":"377","i":16,"x":52.5,"y":82.5},{"c":"377","i":17,"x":52.5,"y":85},{"c":"377","i":18,"x":57.5,"y":85},{"c":"377","i":19,"x":57.5,"y":90.5},{"c":"377","i":20,"x":68.5,"y":90.5},{"c":"377","i":21,"x":68.5,"y":92},{"c":"377","i":22,"x":79,"y":92},{"c":"377","i":23,"x":79,"y":97.5},{"c":"377","i":24,"x":84,"y":97.5},{"c":"377","i":25,"x":84,"y":98.5},{"c":"377","i":26,"x":100,"y":98.5},
  {"c":"199a","i":0,"x":0,"y":0},{"c":"199a","i":1,"x":0,"y":37},{"c":"199a","i":2,"x":5,"y":37},{"c":"199a","i":3,"x":5,"y":51},{"c":"199a","i":4,"x":16,"y":51},{"c":"199a","i":5,"x":16,"y":61.5},{"c":"199a","i":6,"x":26,"y":61.5},{"c":"199a","i":7,"x":26,"y":64.5},{"c":"199a","i":8,"x":31,"y":64.5},{"c":"199a","i":9,"x":31,"y":66.5},{"c":"199a","i":10,"x":36,"y":66.5},{"c":"199a","i":11,"x":36,"y":67.5},{"c":"199a","i":12,"x":42,"y":67.5},{"c":"199a","i":13,"x":42,"y":69.5},{"c":"199a","i":14,"x":52.5,"y":69.5},{"c":"199a","i":15,"x":52.5,"y":84},{"c":"199a","i":16,"x":57.5,"y":84},{"c":"199a","i":17,"x":57.5,"y":89.5},{"c":"199a","i":18,"x":63,"y":89.5},{"c":"199a","i":19,"x":63,"y":90.5},{"c":"199a","i":20,"x":73.5,"y":90.5},{"c":"199a","i":21,"x":73.5,"y":91.5},{"c":"199a","i":22,"x":79,"y":91.5},{"c":"199a","i":23,"x":79,"y":93},{"c":"199a","i":24,"x":84,"y":93},{"c":"199a","i":25,"x":84,"y":98.5},{"c":"199a","i":26,"x":100,"y":98.5},
  {"c":"93","i":0,"x":0,"y":0},{"c":"93","i":1,"x":0,"y":49},{"c":"93","i":2,"x":5,"y":49},{"c":"93","i":3,"x":5,"y":50.5},{"c":"93","i":4,"x":11,"y":50.5},{"c":"93","i":5,"x":11,"y":60.5},{"c":"93","i":6,"x":21,"y":60.5},{"c":"93","i":7,"x":21,"y":62.5},{"c":"93","i":8,"x":26,"y":62.5},{"c":"93","i":9,"x":26,"y":65},{"c":"93","i":10,"x":36,"y":65},{"c":"93","i":11,"x":36,"y":78},{"c":"93","i":12,"x":42,"y":78},{"c":"93","i":13,"x":42,"y":80.5},{"c":"93","i":14,"x":47,"y":80.5},{"c":"93","i":15,"x":47,"y":82},{"c":"93","i":16,"x":57.5,"y":82},{"c":"93","i":17,"x":57.5,"y":89},{"c":"93","i":18,"x":68.5,"y":89},{"c":"93","i":19,"x":68.5,"y":91},{"c":"93","i":20,"x":78,"y":91},{"c":"93","i":21,"x":78,"y":95.5},{"c":"93","i":22,"x":84,"y":95.5},{"c":"93","i":23,"x":84,"y":98.5},{"c":"93","i":24,"x":100,"y":98.5}
 ]}, "mark": {"type": "line", "strokeWidth": 1.3, "color": "#000", "interpolate": "linear"},
  "encoding": {"order": {"field": "i", "type": "quantitative"}, "strokeDash": {"field": "c", "type": "nominal", "scale": {"domain": ["423", "377", "199a", "93"], "range": [[1, 0], [9, 4], [3, 3], [8, 3, 2, 3]]}, "legend": null}}},
 {"data": {"values": [
  {"i":0,"x":0,"y":1},{"i":1,"x":0,"y":58},{"i":2,"x":2,"y":60.5},{"i":3,"x":5,"y":63},{"i":4,"x":15.5,"y":63},{"i":5,"x":15.5,"y":80},{"i":6,"x":21,"y":80},{"i":7,"x":26,"y":81.5},{"i":8,"x":32,"y":83.5},{"i":9,"x":38,"y":84.5},{"i":10,"x":42,"y":85},{"i":11,"x":48,"y":85},{"i":12,"x":52,"y":87},{"i":13,"x":58,"y":88.5},{"i":14,"x":63,"y":88.5},{"i":15,"x":68,"y":90},{"i":16,"x":68,"y":93.5},{"i":17,"x":73.5,"y":93.5},{"i":18,"x":73.5,"y":97.5},{"i":19,"x":84,"y":97.5},{"i":20,"x":84,"y":99},{"i":21,"x":100,"y":99}
 ]}, "mark": {"type": "line", "strokeWidth": 3.5, "color": "#000"}, "encoding": {"order": {"field": "i", "type": "quantitative"}}},
 {"data": {"values": [
  {"x":74.4,"x2":100,"y":83.2,"y2":83.2},{"x":44.4,"x2":100,"y":78,"y2":78},{"x":57,"x2":100,"y":71,"y2":71},{"x":32.5,"x2":100,"y":63.3,"y2":63.3},{"x":35.3,"x2":35.3,"y":106.3,"y2":92.3}
 ]}, "mark": {"type": "rule", "strokeWidth": 2, "color": "#000"}, "encoding": {"x2": {"field": "x2"}, "y2": {"field": "y2"}}},
 {"data": {"values": [
  {"x":74.4,"y":83.2},{"x":44.4,"y":78},{"x":57,"y":71},{"x":32.5,"y":63.3}
 ]}, "mark": {"type": "point", "filled": true, "opacity": 1, "color": "#000", "size": 400, "shape": "M-1,0L1,-0.4L1,0.4Z"}},
 {"data": {"values": [
  {"x":35.3,"y":92.3}
 ]}, "mark": {"type": "point", "filled": true, "opacity": 1, "color": "#000", "size": 400, "shape": "M-0.5,-1L0.5,-1L0,1Z"}},
 {"data": {"values": [{"t":"miR-423","x":103.8,"y":85.4},{"t":"miR-377","x":103.8,"y":78},{"t":"miR-199a-3p","x":103.8,"y":71},{"t":"miR-93*","x":103.8,"y":63.3}]},
  "mark": {"type": "text", "fontSize": 13, "fontWeight": "bold", "align": "left", "color": "#000"},
  "encoding": {"text": {"field": "t"}}},
 {"data": {"values": [{"x":-37.4,"y":113.4,"t":"B"}]}, "mark": {"type": "text", "fontSize": 18, "fontWeight": "bold", "color": "#000"}, "encoding": {"text": {"field": "t"}}},
 {"data": {"values": [{"x":38.8,"y":113.6,"t":"Combined panel"}]}, "mark": {"type": "text", "fontSize": 14, "fontWeight": "bold", "color": "#000"}, "encoding": {"text": {"field": "t"}}},
 {"data": {"values": [{"x":60.5,"y":41.6,"t":"AUC=0.85"},{"x":61.9,"y":31,"t":"P<0.0001"}]}, "mark": {"type": "text", "fontSize": 17, "color": "#000"}, "encoding": {"text": {"field": "t"}}}
]
},
{
"width": 243, "height": 254,
"encoding": {
 "x": {"field": "x", "type": "quantitative", "scale": {"domain": [0.496, 2.506], "range": [209, 498], "nice": false, "zero": false},
  "axis": {"values": [1, 2], "labelExpr": "datum.value == 1 ? 'Non' : 'GVHD'", "labelAngle": -45, "labelFontSize": 13, "labelFontWeight": "bold", "tickSize": 5, "tickWidth": 2, "domainWidth": 2, "title": null, "labelPadding": 3}},
 "y": {"field": "y", "type": "quantitative", "scale": {"domain": [0, 4000], "range": [254, 63.3], "nice": false, "zero": false},
  "axis": {"offset": -209, "values": [0, 1000, 2000, 3000, 4000], "format": "d", "title": "sIL-2Rα (pg/ml)", "titleFontSize": 12, "titleFontWeight": "bold", "labelFontSize": 13, "labelFontWeight": "bold", "tickSize": 5, "tickWidth": 2, "domainWidth": 2, "labelPadding": 3, "titlePadding": 15}}
},
"layer": [
 {"data": {"values": [
  {"g":"Non","x":0.926,"y":979},{"g":"Non","x":1.007,"y":1084},{"g":"Non","x":1.084,"y":965},{"g":"Non","x":1.007,"y":769},{"g":"Non","x":0.961,"y":545},{"g":"Non","x":1.042,"y":503},{"g":"Non","x":0.722,"y":350},{"g":"Non","x":0.803,"y":301},{"g":"Non","x":0.879,"y":280},{"g":"Non","x":0.961,"y":280},{"g":"Non","x":1.042,"y":266},{"g":"Non","x":1.123,"y":301},{"g":"Non","x":1.204,"y":315},{"g":"Non","x":1.281,"y":350},{"g":"Non","x":0.961,"y":175},{"g":"Non","x":1.0,"y":450},
  {"g":"GVHD","x":2.0,"y":3601},{"g":"GVHD","x":2.0,"y":2252},{"g":"GVHD","x":2.0,"y":1902},{"g":"GVHD","x":2.0,"y":1622},{"g":"GVHD","x":2.039,"y":1259},{"g":"GVHD","x":1.958,"y":1154},{"g":"GVHD","x":2.241,"y":1105},{"g":"GVHD","x":1.761,"y":1014},{"g":"GVHD","x":1.842,"y":979},{"g":"GVHD","x":2.155,"y":979},{"g":"GVHD","x":1.923,"y":909},{"g":"GVHD","x":2.074,"y":923},{"g":"GVHD","x":1.761,"y":804},{"g":"GVHD","x":1.842,"y":734},{"g":"GVHD","x":1.923,"y":769},{"g":"GVHD","x":2.074,"y":734},{"g":"GVHD","x":2.155,"y":734},{"g":"GVHD","x":2.237,"y":769},
  {"g":"GVHD","x":1.761,"y":660},{"g":"GVHD","x":1.923,"y":640},{"g":"GVHD","x":2.086,"y":655},{"g":"GVHD","x":2.202,"y":630},
  {"g":"GVHD","x":1.726,"y":560},{"g":"GVHD","x":1.807,"y":540},{"g":"GVHD","x":1.889,"y":555},{"g":"GVHD","x":1.97,"y":545},{"g":"GVHD","x":2.051,"y":560},{"g":"GVHD","x":2.132,"y":540},{"g":"GVHD","x":2.213,"y":550},{"g":"GVHD","x":2.283,"y":565},
  {"g":"GVHD","x":1.738,"y":445},{"g":"GVHD","x":1.831,"y":460},{"g":"GVHD","x":1.923,"y":440},{"g":"GVHD","x":2.016,"y":455},{"g":"GVHD","x":2.109,"y":450},{"g":"GVHD","x":2.202,"y":460},
  {"g":"GVHD","x":1.726,"y":355},{"g":"GVHD","x":1.807,"y":340},{"g":"GVHD","x":1.889,"y":350},{"g":"GVHD","x":1.97,"y":360},{"g":"GVHD","x":2.051,"y":345},{"g":"GVHD","x":2.132,"y":355},{"g":"GVHD","x":2.213,"y":340},{"g":"GVHD","x":2.283,"y":350},
  {"g":"GVHD","x":1.738,"y":250},{"g":"GVHD","x":1.819,"y":260},{"g":"GVHD","x":1.9,"y":245},{"g":"GVHD","x":1.981,"y":255},{"g":"GVHD","x":2.063,"y":240},{"g":"GVHD","x":2.144,"y":260},{"g":"GVHD","x":2.225,"y":250},{"g":"GVHD","x":2.295,"y":245},
  {"g":"GVHD","x":1.726,"y":160},{"g":"GVHD","x":1.807,"y":150},{"g":"GVHD","x":1.889,"y":140},{"g":"GVHD","x":1.97,"y":155},{"g":"GVHD","x":2.051,"y":145},{"g":"GVHD","x":2.132,"y":160},{"g":"GVHD","x":2.213,"y":150},{"g":"GVHD","x":2.283,"y":165},
  {"g":"GVHD","x":1.9,"y":95},{"g":"GVHD","x":1.981,"y":105},{"g":"GVHD","x":2.063,"y":90}
 ]}, "mark": {"type": "point", "filled": true, "opacity": 1, "color": "#000", "size": 55},
  "encoding": {"shape": {"field": "g", "type": "nominal", "scale": {"domain": ["Non", "GVHD"], "range": ["circle", "square"]}, "legend": null}}},
 {"data": {"values": [
  {"x":1.06,"y":3692,"x2":1.06,"y2":4139},{"x":1.06,"y":4139,"x2":1.99,"y2":4139},{"x":1.99,"y":4139,"x2":1.99,"y2":3692},
  {"x":1,"y":425,"x2":1,"y2":580},{"x":2,"y":565,"x2":2,"y2":720}
 ]}, "mark": {"type": "rule", "strokeWidth": 2, "color": "#000"}, "encoding": {"x2": {"field": "x2"}, "y2": {"field": "y2"}}},
 {"data": {"values": [{"x":1,"y":500}]}, "mark": {"type": "tick", "orient": "horizontal", "size": 88, "thickness": 2, "color": "#000", "opacity": 1}},
 {"data": {"values": [{"x":2,"y":640}]}, "mark": {"type": "tick", "orient": "horizontal", "size": 110, "thickness": 2, "color": "#000", "opacity": 1}},
 {"data": {"values": [{"x":1,"y":425},{"x":1,"y":580},{"x":2,"y":565},{"x":2,"y":720}]}, "mark": {"type": "tick", "orient": "horizontal", "size": 50, "thickness": 2, "color": "#000", "opacity": 1}},
 {"data": {"values": [{"x":0.09,"y":5391,"t":"C"}]}, "mark": {"type": "text", "fontSize": 18, "fontWeight": "bold", "color": "#000"}, "encoding": {"text": {"field": "t"}}},
 {"data": {"values": [{"x":1.378,"y":5077,"t":"sIL-2Rα 6 wks post-HCT"},{"x":1.552,"y":4475,"t":"NS"}]}, "mark": {"type": "text", "fontSize": 13, "fontWeight": "bold", "color": "#000"}, "encoding": {"text": {"field": "t"}}}
]
}
]
}
